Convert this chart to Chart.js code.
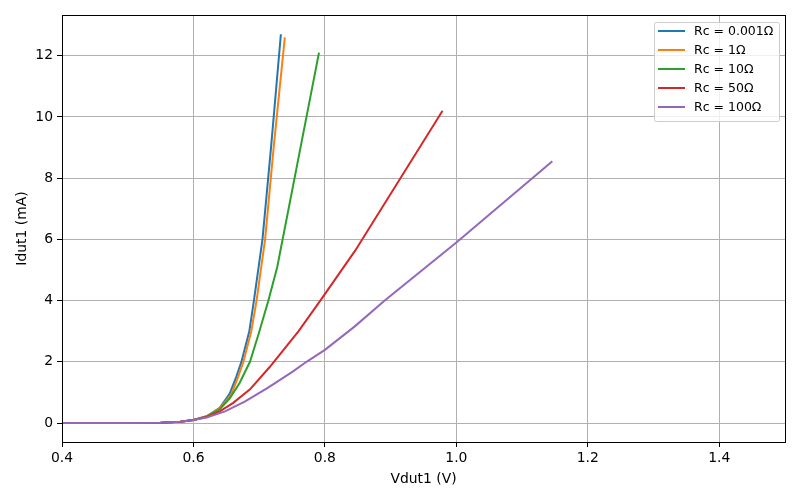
<!DOCTYPE html>
<html>
<head>
<meta charset="utf-8">
<script src="https://cdn.jsdelivr.net/npm/chart.js@4.4.1/dist/chart.umd.min.js"></script>
<style>
  html, body { margin: 0; padding: 0; background: #fff; }
  #wrap { width: 800px; height: 500px; }
</style>
</head>
<body>
<div id="wrap"><canvas id="ivChart" width="800" height="500"></canvas></div>
<script>
// series labels and colours
const labels = ['Rc = 0.001\u03a9', 'Rc = 1\u03a9', 'Rc = 10\u03a9', 'Rc = 50\u03a9', 'Rc = 100\u03a9'];
const colors = ['#1f77b4', '#ff7f0e', '#2ca02c', '#d62728', '#9467bd'];

// Vdut1 (V) / Idut1 (mA)
const v001 = [0.40, 0.50, 0.55, 0.58, 0.60, 0.62, 0.64, 0.655, 0.665, 0.673, 0.685, 0.692, 0.705, 0.718, 0.733];
const i001 = [0.0, 0.003, 0.012, 0.045, 0.10, 0.22, 0.50, 0.95, 1.5, 2.0, 3.0, 4.0, 6.0, 9.0, 12.7];

const v1 = [0.40, 0.50, 0.55, 0.58, 0.60, 0.62, 0.64, 0.657, 0.667, 0.676, 0.688, 0.696, 0.709, 0.722, 0.739];
const i1 = [0.0, 0.003, 0.012, 0.045, 0.10, 0.22, 0.48, 0.92, 1.45, 2.0, 3.0, 4.0, 6.0, 9.0, 12.6];

const v10 = [0.40, 0.50, 0.55, 0.58, 0.60, 0.62, 0.64, 0.655, 0.67, 0.686, 0.699, 0.714, 0.7275, 0.791];
const i10 = [0.0, 0.003, 0.012, 0.045, 0.10, 0.21, 0.45, 0.80, 1.30, 2.0, 2.9, 4.0, 5.1, 12.1];

const v50 = [0.40, 0.50, 0.55, 0.58, 0.60, 0.62, 0.64, 0.66, 0.686, 0.716, 0.76, 0.793, 0.846, 0.979];
const i50 = [0.0, 0.003, 0.012, 0.045, 0.10, 0.20, 0.38, 0.65, 1.10, 1.83, 3.0, 4.0, 5.63, 10.2];

const v100 = [0.40, 0.50, 0.55, 0.58, 0.60, 0.62, 0.648, 0.678, 0.713, 0.751, 0.772, 0.80, 0.845, 0.891, 1.0, 1.146];
const i100 = [0.0, 0.003, 0.012, 0.045, 0.10, 0.18, 0.38, 0.70, 1.15, 1.68, 2.0, 2.39, 3.15, 4.0, 5.9, 8.55];

const xTicks = [0.4, 0.6, 0.8, 1.0, 1.2, 1.4];
const yTicks = [0, 2, 4, 6, 8, 10, 12];

const allV = [v001, v1, v10, v50, v100];
const allI = [i001, i1, i10, i50, i100];

const FONT = 'DejaVu Sans';

function toPoints(vs, is) {
    return vs.map((v, k) => ({ x: v, y: is[k] }));
}

// matplotlib style frame + legend inside the axes
const framePlugin = {
    id: 'frame',
    afterDraw(chart) {
        const ctx = chart.ctx;
        const a = chart.chartArea;
        ctx.save();
        ctx.strokeStyle = '#000';
        ctx.lineWidth = 1;
        ctx.strokeRect(Math.round(a.left) + 0.5, Math.round(a.top) + 0.5,
            Math.round(a.right - a.left), Math.round(a.bottom - a.top));

        // legend box
        const bx = 654.5, by = 22.5, bw = 125, bh = 99;
        ctx.fillStyle = 'rgba(255,255,255,0.8)';
        ctx.strokeStyle = '#cccccc';
        ctx.beginPath();
        if (ctx.roundRect) ctx.roundRect(bx, by, bw, bh, 2); else ctx.rect(bx, by, bw, bh);
        ctx.fill();
        ctx.stroke();

        ctx.font = '12.5px "' + FONT + '"';
        ctx.textBaseline = 'middle';
        ctx.textAlign = 'left';
        labels.forEach((lab, k) => {
            const yy = 31 + k * 19;
            ctx.strokeStyle = colors[k];
            ctx.lineWidth = 2;
            ctx.beginPath();
            ctx.moveTo(658, yy);
            ctx.lineTo(685, yy);
            ctx.stroke();
            ctx.fillStyle = '#000';
            ctx.fillText(lab, 694, yy + 1);
        });
        ctx.restore();
    }
};

const datasets = labels.map((lab, k) => ({
    label: lab,
    data: toPoints(allV[k], allI[k]),
    borderColor: colors[k],
    backgroundColor: colors[k],
    borderWidth: 2,
    pointRadius: 0,
    tension: 0,
    fill: false,
    order: labels.length - k
}));

new Chart(document.getElementById('ivChart').getContext('2d'), {
    type: 'line',
    data: { datasets: datasets },
    plugins: [framePlugin],
    options: {
        responsive: false,
        animation: false,
        events: [],
        layout: { padding: { left: 0, right: 15, top: 15, bottom: 0 } },
        plugins: { legend: { display: false }, tooltip: { enabled: false } },
        scales: {
            x: {
                type: 'linear',
                min: 0.4,
                max: 1.5,
                afterBuildTicks: s => { s.ticks = xTicks.map(v => ({ value: v })); },
                afterFit: s => { s.height = 58; },
                grid: { color: '#b0b0b0', lineWidth: 1, tickLength: 5, tickColor: '#000' },
                border: { display: true, color: '#000' },
                ticks: {
                    color: '#000', padding: 3, maxRotation: 0,
                    font: { family: FONT, size: 13.9 },
                    callback: v => v.toFixed(1)
                },
                title: {
                    display: true, text: 'Vdut1 (V)', color: '#000',
                    font: { family: FONT, size: 13.9 },
                    padding: { top: 0, bottom: 12 }
                }
            },
            y: {
                type: 'linear',
                min: -0.62,
                max: 13.33,
                afterBuildTicks: s => { s.ticks = yTicks.map(v => ({ value: v })); },
                afterFit: s => { s.width = 62; },
                grid: { color: '#b0b0b0', lineWidth: 1, tickLength: 5, tickColor: '#000' },
                border: { display: true, color: '#000' },
                ticks: {
                    color: '#000', padding: 4,
                    font: { family: FONT, size: 13.9 },
                    callback: v => String(v)
                },
                title: {
                    display: true, text: 'Idut1 (mA)', color: '#000',
                    font: { family: FONT, size: 13.9 },
                    padding: { top: 14, bottom: 0 }
                }
            }
        }
    }
});
</script>
</body>
</html>
